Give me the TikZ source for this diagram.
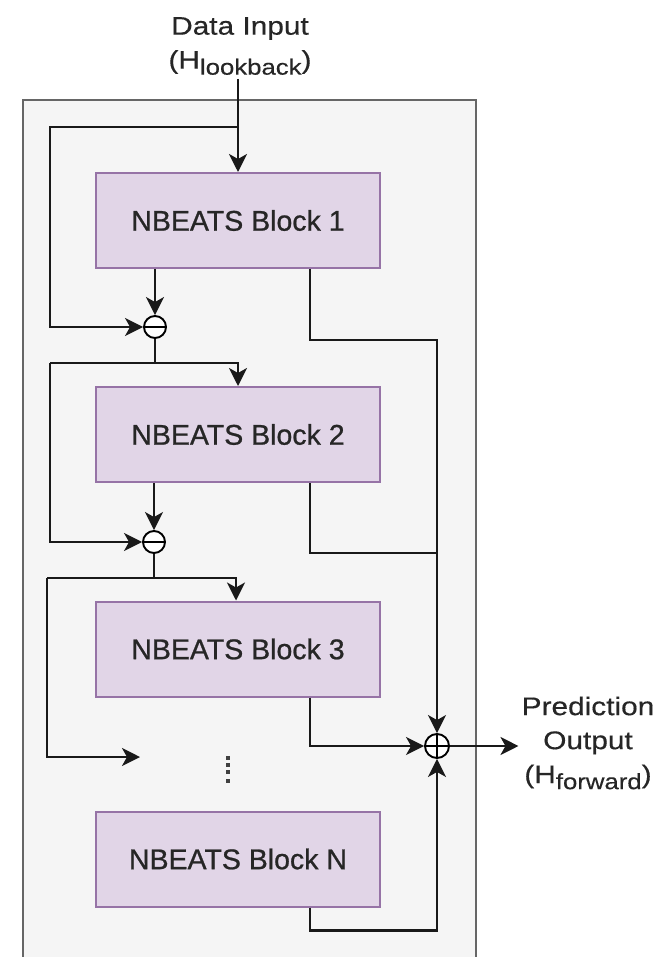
\documentclass[tikz,border=0pt]{standalone}
\usepackage{fontspec}
\setmainfont{Liberation Sans}
\newfontfamily\blkfont[FakeBold=0.8]{Liberation Sans}
\newfontfamily\lblfont[FakeStretch=1.17,FakeBold=0.4]{Liberation Sans}
\usetikzlibrary{arrows.meta,calc}
\definecolor{blkfill}{HTML}{E1D5E7}
\definecolor{blkdraw}{HTML}{9673A6}
\definecolor{outfill}{HTML}{F5F5F5}
\definecolor{outdraw}{HTML}{666666}
\begin{document}
\begin{tikzpicture}[x=1pt,y=-1pt,
  line/.style={line width=2.3pt, black!90},
  arr/.style={line, -{Stealth[length=18pt,width=18pt,inset=5pt]}},
  blk/.style={draw=blkdraw, fill=blkfill, line width=2pt, minimum width=284pt, minimum height=95pt, inner sep=0pt, text=black!85, font=\blkfont\fontsize{28.5}{34}\selectfont},
  lbl/.style={align=center, inner sep=0pt, text=black!85, font=\lblfont\fontsize{25.5}{34}\selectfont},
  minus/.style={circle, draw, fill=white, line width=1.9pt, minimum size=22pt, inner sep=0pt,
    path picture={\draw[line width=1.9pt] (path picture bounding box.west) -- (path picture bounding box.east);}},
  plus/.style={circle, draw, fill=white, line width=1.9pt, minimum size=24pt, inner sep=0pt,
    path picture={\draw[line width=1.9pt] (path picture bounding box.west) -- (path picture bounding box.east)
      (path picture bounding box.north) -- (path picture bounding box.south);}}
]
\useasboundingbox (0,0) rectangle (663,957);
\draw[fill=outfill, draw=outdraw, line width=2pt] (23,100) rectangle (476,970);

% labels
\node[lbl] (data) at (240,46) {Data Input\\(H\raisebox{-6pt}{\fontsize{22}{22}\selectfont lookback})};
\node[lbl] (pred) at (588,743) {Prediction\\Output\\(H\raisebox{-6pt}{\fontsize{22}{22}\selectfont forward})};

% blocks
\node[blk] (b1) at (238,220.5) {NBEATS Block 1};
\node[blk] (b2) at (238,434.5) {NBEATS Block 2};
\node[blk] (b3) at (238,649) {NBEATS Block 3};
\node[blk] (bN) at (238,859) {NBEATS Block N};

% operators
\node[minus] (c1) at (155,327) {};
\node[minus] (c2) at (154,542) {};
\node[plus] (pl) at (437,746) {};

% helper coordinates
\coordinate (in) at (238,79);
\coordinate (br0) at (238,127);
\coordinate (br1) at (155,363);
\coordinate (br2) at (154,578);
\coordinate (ox) at (310,0);
\coordinate (lx1) at (50,0);
\coordinate (lx2) at (47,0);
\coordinate (gap) at (140,757);

% residual path
\draw[arr] (in) -- (b1.north);
\draw[arr] (br0) -- (br0 -| lx1) |- (c1.west);
\draw[arr] (b1.south -| c1) -- (c1.north);
\draw[line] (c1.south) -- (br1);
\draw[arr] (lx1 |- br1) -| (b2.north);
\draw[arr] (lx1 |- br1) |- (c2.west);
\draw[arr] (b2.south -| c2) -- (c2.north);
\draw[line] (c2.south) -- (br2);
\draw[arr] (lx2 |- br2) -| ($(b3.north)+(-2,0)$);
\draw[arr] (lx2 |- br2) |- (gap);

% dots
\foreach \yy in {758,765,772,781} \fill[black!75] (226,\yy-2) rectangle ++(4,4);

% forecast path
\draw[arr] (b1.south -| ox) -- ++(0,71) -| (pl.north);
\draw[line] (b2.south -| ox) -- ++(0,70) -- ($(b2.south -| pl)+(0,70)$);
\draw[arr] (b3.south -| ox) |- (pl.west);
\draw[arr] (bN.south -| ox) -- ++(0,23) -| (pl.south);
\draw[arr] (pl.east) -- ($(pl.east -| pred.west)+(-3,0)$);
\end{tikzpicture}
\end{document}
